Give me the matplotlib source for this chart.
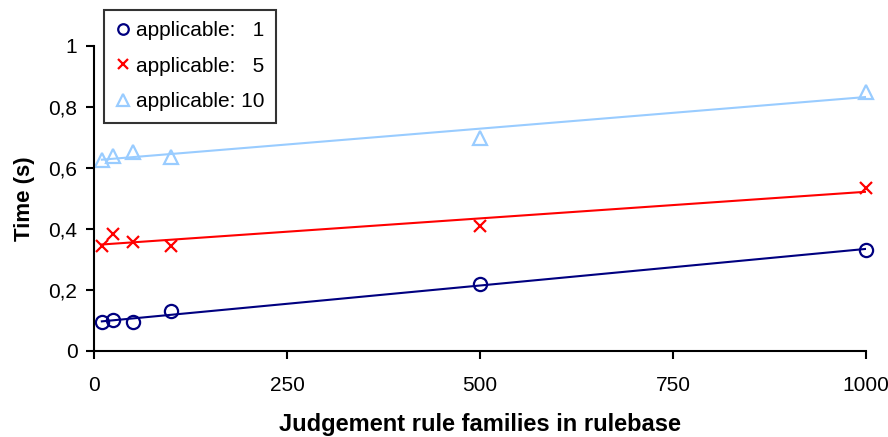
import matplotlib.pyplot as plt
import numpy as np

plt.rcParams['font.family'] = ['Liberation Sans', 'DejaVu Sans']

families = [10, 25, 50, 100, 500, 1000]
time_app1 = [0.095, 0.100, 0.095, 0.130, 0.220, 0.331]
time_app5 = [0.345, 0.384, 0.358, 0.345, 0.410, 0.535]
time_app10 = [0.626, 0.639, 0.652, 0.637, 0.697, 0.848]
labels = ["applicable:   1", "applicable:   5", "applicable: 10"]

fig = plt.figure(figsize=(8.88, 4.37), dpi=100)
ax = fig.add_axes([0.106, 0.197, 0.869, 0.698])

styles = [("#000080", "o", 9.5), ("#FF0000", "x", 8.5), ("#99CCFF", "^", 10)]
x = np.array(families)
for y, lab, (col, mk, ms) in zip([time_app1, time_app5, time_app10], labels, styles):
    ax.plot(x, y, linestyle="none", marker=mk, markersize=ms,
            markerfacecolor="none", markeredgecolor=col, markeredgewidth=1.6,
            label=lab, clip_on=False)
    # linear trendline
    k, b = np.polyfit(x, y, 1)
    ax.plot(x[[0, -1]], k * x[[0, -1]] + b, color=col, linewidth=1.5)

ax.set_xlim(0, 1000)
ax.set_ylim(0, 1)
ax.set_xticks([0, 250, 500, 750, 1000])
ax.set_yticks([0, 0.2, 0.4, 0.6, 0.8, 1])
ax.set_yticklabels(["0", "0,2", "0,4", "0,6", "0,8", "1"])
ax.tick_params(labelsize=15, length=6, width=1.5, direction="out")
ax.tick_params(axis="x", pad=12)
ax.tick_params(axis="y", pad=6)
for s in ["top", "right"]:
    ax.spines[s].set_visible(False)
for s in ["left", "bottom"]:
    ax.spines[s].set_linewidth(1.5)

ax.set_xlabel("Judgement rule families in rulebase", fontsize=17, fontweight="bold", labelpad=13)
ax.set_ylabel("Time (s)", fontsize=16, fontweight="bold", labelpad=10)

leg = ax.legend(loc="upper left", bbox_to_anchor=(0.117, 0.978), bbox_transform=fig.transFigure,
                fontsize=15, frameon=True, fancybox=False, edgecolor="black",
                handlelength=0.7, handletextpad=0.3, borderpad=0.55, labelspacing=0.8,
                borderaxespad=0, markerscale=0.8)
leg.get_frame().set_linewidth(1.5)

fig.savefig("out.png", dpi=100)
